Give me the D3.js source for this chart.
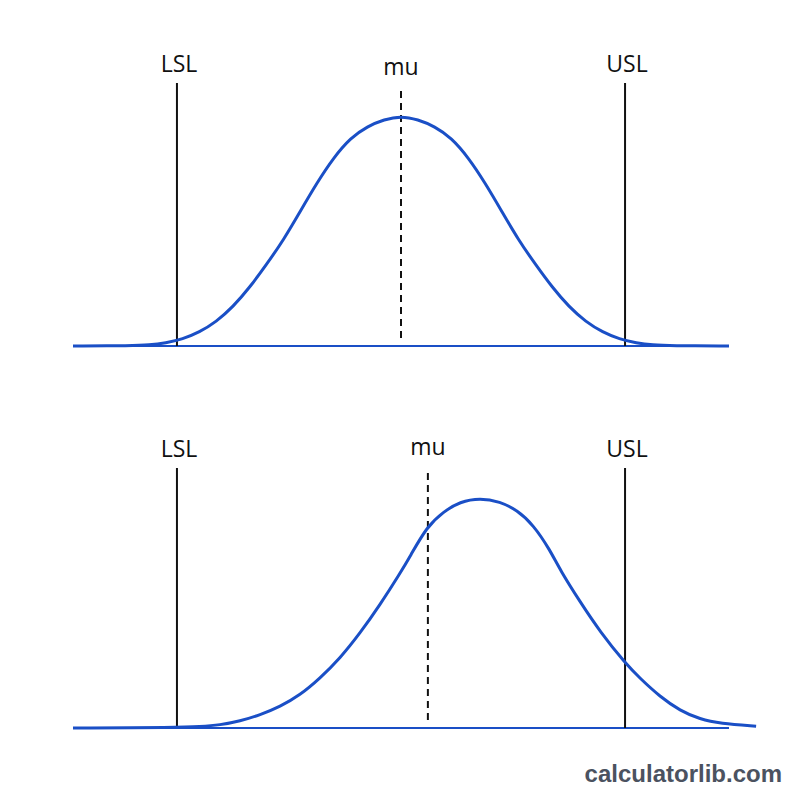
<!DOCTYPE html>
<html>
<head>
<meta charset="utf-8">
<script src="https://cdn.jsdelivr.net/npm/d3@7"></script>
<style>
  html, body { margin: 0; padding: 0; background: #fff; }
</style>
</head>
<body>
<div id="chart"></div>
<script>
// spec limits and means, in measurement units
var limitValues = [10, 30];
var limitLabels = ["LSL", "USL"];
var meanLabel = "mu";
var topMean = 20;
var bottomMean = 21.2;

// relative density (peak = 1)
var topX = [5.36, 8.0, 8.75, 9.5, 10.25, 11.0, 11.75, 12.5, 13.25, 14.0, 14.75, 15.5, 16.25,
            17.0, 17.75, 18.5, 19.25, 20.0, 20.75, 21.5, 22.25, 23.0, 23.75, 24.5, 25.25,
            26.0, 26.75, 27.5, 28.25, 29.0, 29.75, 30.5, 31.25, 32.0, 34.64];
var topY = [0.00, 0.001, 0.004, 0.013, 0.03, 0.06, 0.105, 0.17, 0.255, 0.355, 0.46, 0.585, 0.71,
            0.82, 0.905, 0.955, 0.985, 1.00, 0.985, 0.955, 0.905, 0.82, 0.71, 0.585, 0.46,
            0.355, 0.255, 0.17, 0.105, 0.06, 0.03, 0.013, 0.004, 0.001, 0.00];

var bottomX = [5.36, 10.0, 11.03, 11.92, 12.81, 13.71, 14.60, 15.49, 16.38, 17.28, 18.17,
               19.06, 19.96, 20.40, 21.15, 21.89, 22.63, 23.53, 24.42, 25.17, 25.91, 26.65,
               27.10, 27.99, 28.88, 30.04, 30.67, 31.56, 32.46, 33.35, 34.24, 35.85];
var bottomY = [0.00, 0.002, 0.006, 0.013, 0.030, 0.057, 0.093, 0.143, 0.216, 0.303, 0.412,
               0.535, 0.673, 0.745, 0.875, 0.94, 0.984, 1.00, 0.984, 0.948, 0.883, 0.774,
               0.687, 0.549, 0.419, 0.278, 0.216, 0.136, 0.075, 0.038, 0.020, 0.008];

var axisExtent = [5.36, 34.64];

var width = 800, height = 800;
var blue = "#1a4fc6";

var svg = d3.select("#chart")
  .append("svg")
    .attr("width", width)
    .attr("height", height)
    .style("font-family", "'Open Sans', 'Noto Sans', sans-serif");

svg.append("rect")
    .attr("width", width)
    .attr("height", height)
    .attr("fill", "#fff");

var x = d3.scaleLinear()
    .domain(axisExtent)
    .range([73, 729]);

function drawPanel(xs, ys, mean, base, lineTop, meanTop) {
  var y = d3.scaleLinear()
      .domain([0, 1])
      .range([base, base - 230]);

  var g = svg.append("g");

  // baseline
  g.append("line")
      .attr("x1", x(axisExtent[0]))
      .attr("x2", x(axisExtent[1]))
      .attr("y1", y(0))
      .attr("y2", y(0))
      .attr("stroke", blue)
      .attr("stroke-width", 2);

  // LSL / USL
  limitValues.forEach(function(v, i) {
    g.append("line")
        .attr("x1", x(v)).attr("x2", x(v))
        .attr("y1", y(0)).attr("y2", lineTop)
        .attr("stroke", "#111")
        .attr("stroke-width", 2);
    g.append("text")
        .attr("x", x(v) + 2)
        .attr("y", lineTop - 11)
        .attr("text-anchor", "middle")
        .style("font-size", "23px")
        .attr("fill", "#111")
        .text(limitLabels[i]);
  });

  // mean
  g.append("line")
      .attr("x1", x(mean)).attr("x2", x(mean))
      .attr("y1", y(0) - 8).attr("y2", meanTop)
      .attr("stroke", "#111")
      .attr("stroke-width", 2)
      .attr("stroke-dasharray", "7,5");
  g.append("text")
      .attr("x", x(mean))
      .attr("y", meanTop - 15)
      .attr("text-anchor", "middle")
      .style("font-size", "23px")
      .attr("fill", "#111")
      .text(meanLabel);

  var pts = xs.map(function(d, i) { return [d, ys[i]]; });
  var line = d3.line()
      .x(function(d) { return x(d[0]); })
      .y(function(d) { return y(d[1]); })
      .curve(d3.curveBasis);

  g.append("path")
      .datum(pts)
      .attr("d", line)
      .attr("fill", "none")
      .attr("stroke", blue)
      .attr("stroke-width", 3);
}

drawPanel(topX, topY, topMean, 346, 83, 90);
drawPanel(bottomX, bottomY, bottomMean, 728, 468, 470);

svg.append("text")
    .attr("x", 782)
    .attr("y", 782)
    .attr("text-anchor", "end")
    .style("font-family", "'Liberation Sans', Arial, sans-serif")
    .style("font-weight", "bold")
    .style("font-size", "24px")
    .attr("fill", "#4b5260")
    .text("calculatorlib.com");
</script>
</body>
</html>
